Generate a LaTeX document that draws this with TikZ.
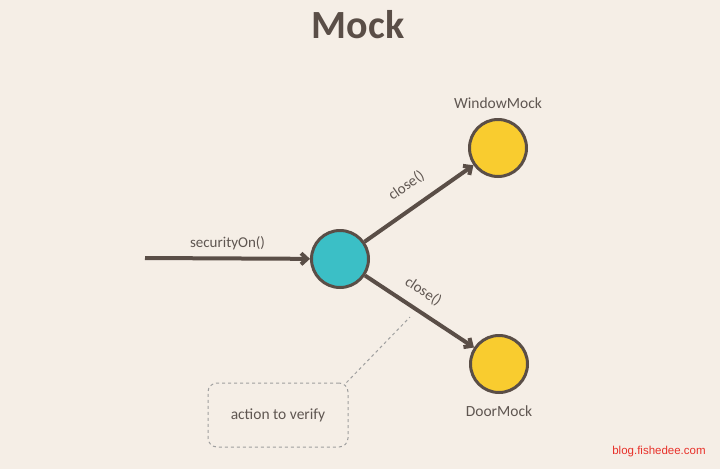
\documentclass[tikz,border=0pt]{standalone}
\usepackage{fontspec}
\setmainfont{Carlito}
\newfontfamily\markfont{Liberation Sans}
\usetikzlibrary{positioning,arrows.meta}
\definecolor{bgbeige}{HTML}{F5EEE6}
\definecolor{inkbrown}{HTML}{5A4E47}
\definecolor{textgrey}{HTML}{5F5651}
\definecolor{mockcyan}{HTML}{3BBFC6}
\definecolor{mockyellow}{HTML}{F9CC2F}
\definecolor{markred}{HTML}{E8312A}
\tikzstyle{CallerBall}=[circle, draw=inkbrown, fill=mockcyan, line width=3pt, minimum size=57pt, inner sep=0pt]
\tikzstyle{MockBall}=[circle, draw=inkbrown, fill=mockyellow, line width=3pt, minimum size=57pt, inner sep=0pt]
\tikzstyle{MockName}=[text=textgrey, font=\fontsize{15.5}{17}\selectfont]
\tikzstyle{CallArrow}=[draw=inkbrown, line width=4pt, -{Straight Barb[length=6pt,width=11pt]}]
\tikzstyle{CallLabel}=[text=textgrey, font=\fontsize{15}{17}\selectfont]
\tikzstyle{VerifyBox}=[rectangle, rounded corners=9pt, draw=gray!75, dashed, line width=1pt, minimum width=140pt, minimum height=64pt, text=textgrey, font=\fontsize{15.5}{17}\selectfont]

\begin{document}
\begin{tikzpicture}[x=1pt, y=-1pt]
	\fill[bgbeige] (0,0) rectangle (720,469);
	\useasboundingbox (0,0) rectangle (720,469);

	%Nodos
	\node[text=inkbrown, font=\bfseries\fontsize{40}{44}\selectfont]	(title)	at (358,25)	{Mock};

	\node[CallerBall]	(alarm)		at (340,259)	{};
	\node[MockBall]		(window)	at (498,148)	{};
	\node[MockBall]		(door)		at (499,364)	{};

	\node[MockName]		(window_name)	[above=6pt of window]	{WindowMock};
	\node[MockName]		(door_name)		[below=8pt of door]		{DoorMock};

	\node[VerifyBox]	(verify)	at (278,415)	{action to verify};

	\coordinate (caller) at (145,258);
	\coordinate (hook) at (410,317);

	%Flechas
	\draw[CallArrow] (caller) -- (alarm) node[CallLabel, midway, above=3pt] {securityOn()};
	\draw[CallArrow] (alarm) -- (window) node[CallLabel, pos=0.5, sloped, above=10pt] {close()};
	\draw[CallArrow] (alarm) -- (door) node[CallLabel, pos=0.44, sloped, above=7pt] {close()};
	\draw[gray!75, dashed, line width=1pt] ([xshift=-2pt]verify.north east) -- (hook);

	\node[text=markred, font=\markfont\fontsize{11.5}{13}\selectfont]	(mark)	at (659,452)	{blog.fishedee.com};
\end{tikzpicture}
\end{document}
